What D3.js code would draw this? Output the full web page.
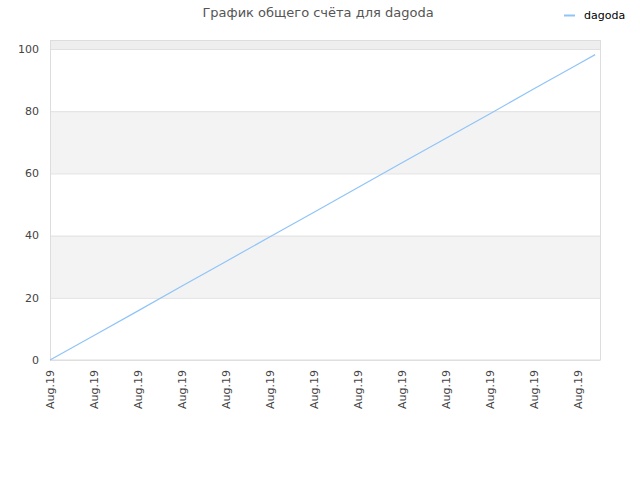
<!DOCTYPE html>
<html>
<head>
<meta charset="utf-8">
<script src="https://d3js.org/d3.v7.min.js"></script>
<style>
  body { margin: 0; background: #fff; }
  svg { display: block; font-family: "DejaVu Sans", sans-serif; }
</style>
</head>
<body>
<div id="chart"></div>
<script>
// x in tick units (one "Aug.19" label per unit), y = total score
const xVals = [0, 1, 2, 3, 4, 5, 6, 7, 8, 9, 10, 11, 12, 12.39];
const scores = [0, 7.9, 15.8, 23.8, 31.7, 39.6, 47.5, 55.5, 63.4, 71.3, 79.2, 87.2, 95.1, 98.2];
const xTickLabels = ['Aug.19', 'Aug.19', 'Aug.19', 'Aug.19', 'Aug.19', 'Aug.19', 'Aug.19',
  'Aug.19', 'Aug.19', 'Aug.19', 'Aug.19', 'Aug.19', 'Aug.19'];
const yTicks = [0, 20, 40, 60, 80, 100];
const seriesName = 'dagoda';
const title = 'График общего счёта для dagoda';

const W = 640, H = 480;
const margin = { top: 40, right: 40, bottom: 120, left: 50 };
const w = W - margin.left - margin.right;
const h = H - margin.top - margin.bottom;

const svg = d3.select('#chart').append('svg')
  .attr('width', W).attr('height', H);

const g = svg.append('g').attr('transform', `translate(${margin.left},${margin.top})`);

const x = d3.scaleLinear().domain([0, 12.5]).range([0, w]);
const y = d3.scaleLinear().domain([0, 102.9]).range([h, 0]);

// alternating bands
const bands = d3.range(yTicks.length).map(i => [yTicks[i], i + 1 < yTicks.length ? yTicks[i + 1] : y.domain()[1]]);
g.selectAll('rect.band').data(bands).enter().append('rect')
  .attr('class', 'band')
  .attr('x', 0).attr('width', w)
  .attr('y', d => y(d[1])).attr('height', d => y(d[0]) - y(d[1]))
  .attr('fill', (d, i) => i === 5 ? '#eeeeee' : (i % 2 ? '#f3f3f3' : '#ffffff'));

// grid lines
g.selectAll('line.grid').data(yTicks).enter().append('line')
  .attr('class', 'grid')
  .attr('x1', 0).attr('x2', w)
  .attr('y1', d => y(d) + 0.5).attr('y2', d => y(d) + 0.5)
  .attr('stroke', '#e0e0e0');

// frame
g.append('rect')
  .attr('x', 0.5).attr('y', 0.5).attr('width', w).attr('height', h - 0.5)
  .attr('fill', 'none').attr('stroke', '#dddddd');

// y axis labels
g.selectAll('text.ylab').data(yTicks).enter().append('text')
  .attr('class', 'ylab')
  .attr('x', -11).attr('y', d => y(d)).attr('dy', '0.35em')
  .attr('text-anchor', 'end')
  .attr('font-size', 11).attr('fill', '#444')
  .text(d => d);

// x axis labels
g.selectAll('text.xlab').data(xTickLabels).enter().append('text')
  .attr('class', 'xlab')
  .attr('transform', (d, i) => `translate(${x(i)},${h + 10}) rotate(-90)`)
  .attr('dy', '0.35em')
  .attr('text-anchor', 'end')
  .attr('font-size', 11).attr('fill', '#444')
  .text(d => d);

// score line
const pts = xVals.map((v, i) => [v, scores[i]]);
g.append('path')
  .datum(pts)
  .attr('fill', 'none')
  .attr('stroke', '#90c4f8')
  .attr('stroke-width', 1.2)
  .attr('d', d3.line().x(d => x(d[0])).y(d => y(d[1])));

// title
svg.append('text')
  .attr('x', 318).attr('y', 17)
  .attr('text-anchor', 'middle')
  .attr('font-size', 13).attr('fill', '#555')
  .text(title);

// legend
svg.append('line')
  .attr('x1', 564).attr('x2', 575).attr('y1', 15.5).attr('y2', 15.5)
  .attr('stroke', '#90c4f8').attr('stroke-width', 2);
svg.append('text')
  .attr('x', 584).attr('y', 15).attr('dy', '0.35em')
  .attr('font-size', 11).attr('fill', '#000')
  .text(seriesName);
</script>
</body>
</html>
